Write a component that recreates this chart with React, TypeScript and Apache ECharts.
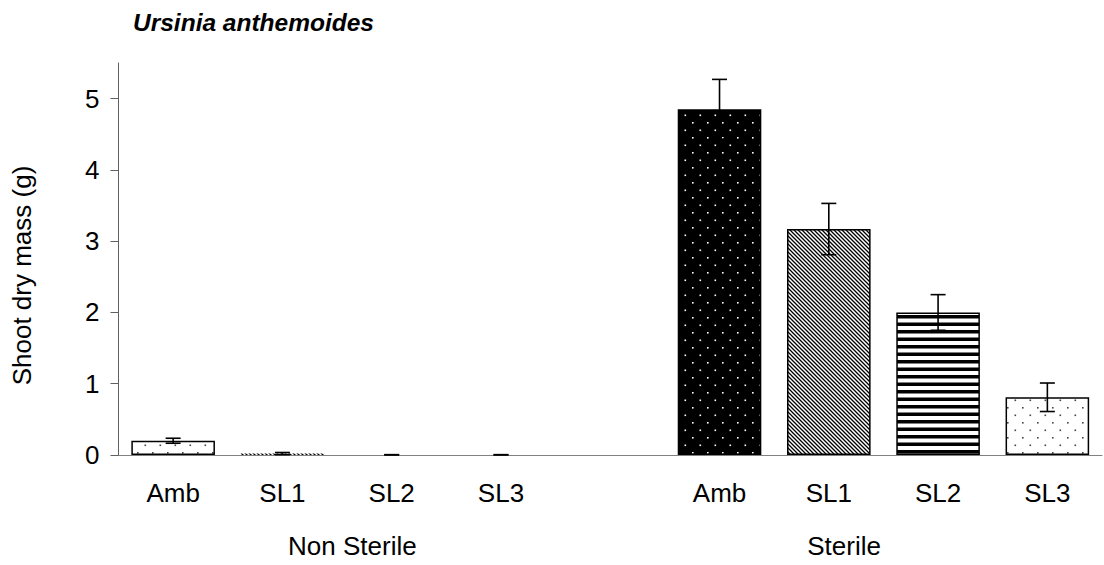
import React, { useEffect, useRef } from "react";
import * as echarts from "echarts";

const TITLE = "Ursinia anthemoides";
const Y_NAME = "Shoot dry mass (g)";
const CATEGORIES = ["Amb", "SL1", "SL2", "SL3", "", "Amb", "SL1", "SL2", "SL3"];
const MEANS: (number | null)[] = [0.2, 0.02, 0.003, 0.003, null, 4.85, 3.17, 2.0, 0.81];
const ERRORS: (number | null)[] = [0.035, 0.015, 0.002, 0.002, null, 0.42, 0.36, 0.25, 0.2];
const PATTERNS: (string | null)[] = ["lightDots", "hatch", "hstripes", "lightDots", null, "darkDots", "hatch", "hstripes", "lightDots"];
const Y_TICKS = [0, 1, 2, 3, 4, 5];
const GROUP_LABELS = ["Non Sterile", "Sterile"];
const GROUP_POSITIONS = [2.14, 6.64];

const FONT = "Arial, 'Liberation Sans', sans-serif";
const FS = 26;

function makePattern(kind: string) {
  const c = document.createElement("canvas");
  const ctx = c.getContext("2d")!;
  if (kind === "darkDots" || kind === "lightDots") {
    c.width = 15; c.height = 15;
    ctx.fillStyle = kind === "darkDots" ? "#000" : "#fff";
    ctx.fillRect(0, 0, 15, 15);
    ctx.fillStyle = kind === "darkDots" ? "#fff" : "#444";
    ctx.fillRect(2, 2, 1.6, 1.6);
    ctx.fillRect(9.5, 9.5, 1.6, 1.6);
  } else if (kind === "hatch") {
    c.width = 4; c.height = 4;
    ctx.fillStyle = "#fff";
    ctx.fillRect(0, 0, 4, 4);
    ctx.strokeStyle = "#000";
    ctx.lineWidth = 1.3;
    ctx.beginPath();
    ctx.moveTo(-1, -1); ctx.lineTo(5, 5);
    ctx.moveTo(-1, 3); ctx.lineTo(1, 5);
    ctx.moveTo(3, -1); ctx.lineTo(5, 1);
    ctx.stroke();
  } else {
    c.width = 8; c.height = 15;
    ctx.fillStyle = "#fff";
    ctx.fillRect(0, 0, 8, 15);
    ctx.fillStyle = "#000";
    ctx.fillRect(0, 0, 8, 3.5);
    ctx.fillRect(0, 7.5, 8, 3.5);
  }
  return { image: c, repeat: "repeat", imageWidth: c.width, imageHeight: c.height };
}

export default function App() {
  const ref = useRef<HTMLDivElement>(null);
  useEffect(() => {
    document.body.style.margin = "0";
    const chart = echarts.init(ref.current!, null, { renderer: "svg" });
    const barData = MEANS.map((v, i) => {
      if (v === null) return "-";
      const p = PATTERNS[i]!;
      return {
        value: v,
        itemStyle: {
          color: makePattern(p),
          borderColor: "#000",
          borderWidth: v >= 0.05 ? 1.5 : 0,
        },
      };
    });
    const errData = MEANS.map((v, i) => (v === null ? null : [i, v, ERRORS[i]])).filter((d) => d !== null);

    chart.setOption({
      animation: false,
      title: {
        text: TITLE,
        left: 133,
        top: 10,
        padding: 0,
        textStyle: { fontFamily: FONT, fontSize: 24.5, fontWeight: "bold", fontStyle: "italic", color: "#000" },
      },
      grid: { left: 118.5, right: 2, top: 63, bottom: 110, containLabel: false },
      xAxis: [
        {
          type: "category",
          data: CATEGORIES,
          axisLine: { lineStyle: { color: "#808080", width: 1 } },
          axisTick: { length: 8, lineStyle: { color: "#404040" } },
          axisLabel: { fontFamily: FONT, fontSize: FS, color: "#000", margin: 25, interval: 0 },
        },
        {
          type: "value",
          position: "bottom",
          min: 0,
          max: 9,
          axisLine: { show: false },
          axisTick: { show: false },
          splitLine: { show: false },
          axisLabel: {
            customValues: GROUP_POSITIONS,
            formatter: (v: number) => {
              const idx = GROUP_POSITIONS.findIndex((p) => Math.abs(p - v) < 1e-6);
              return idx >= 0 ? GROUP_LABELS[idx] : "";
            },
            fontFamily: FONT,
            fontSize: FS,
            color: "#000",
            margin: 78,
          },
        },
      ],
      yAxis: {
        type: "value",
        min: 0,
        max: 5.5,
        interval: 1,
        name: Y_NAME,
        nameLocation: "middle",
        nameGap: 84,
        nameTextStyle: { fontFamily: FONT, fontSize: FS, color: "#000", padding: [0, 33, 0, 0] },
        axisLine: { show: true, lineStyle: { color: "#606060", width: 1 } },
        axisTick: { show: true, length: 8, customValues: Y_TICKS, lineStyle: { color: "#606060" } },
        axisLabel: { customValues: Y_TICKS, fontFamily: FONT, fontSize: FS, color: "#000", margin: 19 },
        splitLine: { show: false },
      },
      series: [
        {
          type: "bar",
          data: barData,
          barWidth: "76.5%",
          xAxisIndex: 0,
        },
        {
          type: "custom",
          xAxisIndex: 0,
          z: 5,
          data: errData,
          encode: { x: 0, y: 1 },
          renderItem: (params: any, api: any) => {
            const x = api.value(0);
            const m = api.value(1);
            const e = api.value(2);
            const top = api.coord([x, m + e]);
            const bot = api.coord([x, Math.max(m - e, 0)]);
            const hw = 7.5;
            const st = { stroke: "#000", lineWidth: 1.6 };
            return {
              type: "group",
              children: [
                { type: "line", shape: { x1: top[0], y1: top[1], x2: bot[0], y2: bot[1] }, style: st },
                { type: "line", shape: { x1: top[0] - hw, y1: top[1], x2: top[0] + hw, y2: top[1] }, style: st },
                { type: "line", shape: { x1: bot[0] - hw, y1: bot[1], x2: bot[0] + hw, y2: bot[1] }, style: st },
              ],
            };
          },
        },
      ],
    });
    return () => chart.dispose();
  }, []);
  return <div ref={ref} style={{ width: 1104, height: 565 }} />;
}
